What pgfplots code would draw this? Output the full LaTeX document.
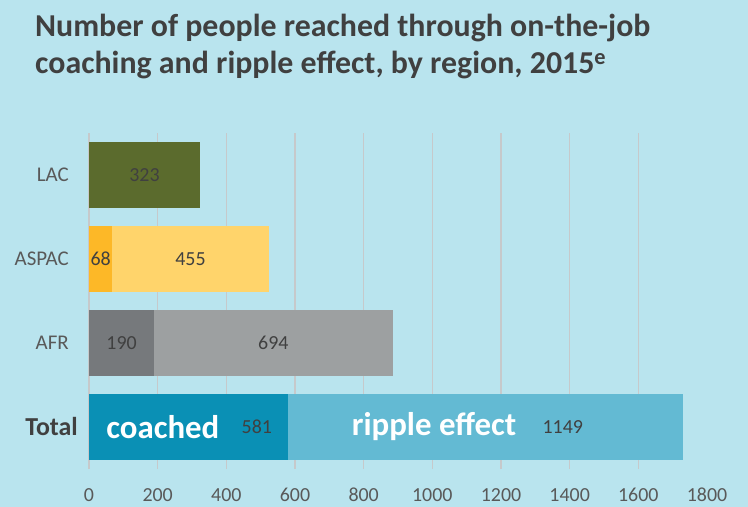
\documentclass[border=0pt]{standalone}
\usepackage{pgfplots}
\pgfplotsset{compat=1.18}
\usepackage{fontspec}
\setmainfont{Carlito}
\definecolor{bg}{HTML}{B9E4EE}
\definecolor{lacc}{HTML}{5B6B2D}
\definecolor{aspc}{HTML}{FDB827}
\definecolor{aspr}{HTML}{FFD46B}
\definecolor{afrc}{HTML}{76797C}
\definecolor{afrr}{HTML}{9DA0A1}
\definecolor{totc}{HTML}{0A90B5}
\definecolor{totr}{HTML}{63BAD3}
\definecolor{gridc}{HTML}{C6C9CB}
\definecolor{titlec}{HTML}{404040}
\definecolor{labc}{HTML}{595959}
\begin{document}
\begin{tikzpicture}
\fill[bg] (0bp,0bp) rectangle (748bp,507bp);
\useasboundingbox (0bp,0bp) rectangle (748bp,507bp);
\node[anchor=base west, inner sep=0pt, text=titlec, font=\bfseries\fontsize{32}{36}\selectfont] at (35bp,470bp) {Number of people reached through on-the-job};
\node[anchor=base west, inner sep=0pt, text=titlec, font=\bfseries\fontsize{32}{36}\selectfont] at (35bp,433bp) {coaching and ripple effect, by region, 2015\textsuperscript{e}};
\begin{axis}[
  at={(89bp,38bp)}, anchor=south west,
  width=618bp, height=336bp, scale only axis,
  xbar stacked, bar width=65bp,
  xmin=0, xmax=1800, ymin=-0.5, ymax=3.5,
  ytick={1,2,3},
  yticklabels={AFR, ASPAC, LAC},
  extra y ticks={0},
  extra y tick labels={Total},
  extra y tick style={yticklabel style={font=\bfseries\fontsize{26}{26}\selectfont, text=titlec, xshift=9bp}},
  xtick={0,200,...,1600},
  xticklabels={0,200,400,600,800,1000,1200,1400,1600},
  extra x ticks={1800},
  extra x tick labels={1800},
  extra x tick style={grid=none},
  xmajorgrids,
  grid style={draw=gridc, line width=1.5bp},
  major tick length=0pt,
  axis line style={draw=none},
  tick label style={font=\fontsize{20}{20}\selectfont, text=labc},
  yticklabel style={anchor=east, inner sep=0pt, xshift=-20bp, font=\fontsize{21}{21}\selectfont},
  xticklabel style={anchor=center, inner sep=0pt, yshift=-26bp},
  clip=false,
]
\addplot[fill=totc, draw=none] coordinates {(581,0) (0,1) (0,2) (0,3)};
\addplot[fill=afrc, draw=none] coordinates {(0,0) (190,1) (0,2) (0,3)};
\addplot[fill=aspc, draw=none] coordinates {(0,0) (0,1) (68,2) (0,3)};
\addplot[fill=lacc, draw=none] coordinates {(0,0) (0,1) (0,2) (323,3)};
\addplot[fill=totr, draw=none] coordinates {(1149,0) (0,1) (0,2) (0,3)};
\addplot[fill=afrr, draw=none] coordinates {(0,0) (694,1) (0,2) (0,3)};
\addplot[fill=aspr, draw=none] coordinates {(0,0) (0,1) (455,2) (0,3)};
\coordinate (l1) at (axis cs:161.5,3);
\coordinate (l2) at (axis cs:34,2);
\coordinate (l3) at (axis cs:295.5,2);
\coordinate (l4) at (axis cs:95,1);
\coordinate (l5) at (axis cs:537,1);
\coordinate (l6) at (axis cs:489,0);
\coordinate (l7) at (axis cs:1380,0);
\coordinate (l8) at (axis cs:215,0);
\coordinate (l9) at (axis cs:1005,0);
\end{axis}
\begin{scope}[every node/.style={font=\fontsize{20}{20}\selectfont, text=titlec, inner sep=0pt}]
\node at (l1) {323};
\node at (l2) {68};
\node at (l3) {455};
\node at (l4) {190};
\node at (l5) {694};
\node at (l6) {581};
\node at (l7) {1149};
\end{scope}
\node[font=\bfseries\fontsize{33}{33}\selectfont, text=white, inner sep=0pt] at (l8) {coached};
\node[font=\bfseries\fontsize{33}{33}\selectfont, text=white, inner sep=0pt] at (l9) {ripple effect};
\end{tikzpicture}
\end{document}
